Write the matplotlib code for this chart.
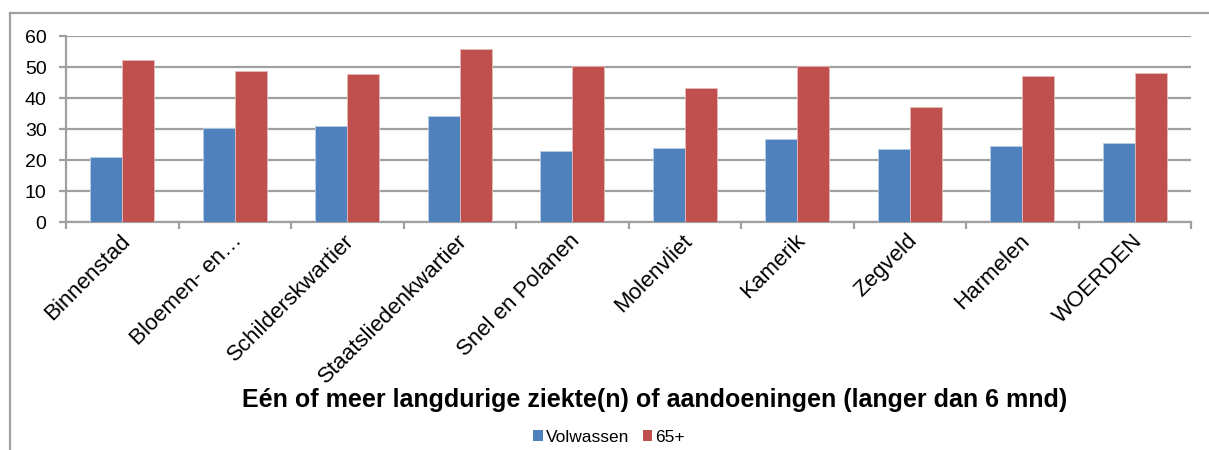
import matplotlib
matplotlib.use("Agg")
import matplotlib.pyplot as plt
from matplotlib.lines import Line2D
from matplotlib.patches import Patch
from matplotlib.transforms import ScaledTranslation
import numpy as np

categories = ["Binnenstad", "Bloemen- en…", "Schilderskwartier", "Staatsliedenkwartier",
              "Snel en Polanen", "Molenvliet", "Kamerik", "Zegveld", "Harmelen", "WOERDEN"]
volwassen = [20.9, 30.3, 31.0, 34.1, 22.9, 23.8, 26.9, 23.6, 24.4, 25.4]
plus65 = [52.2, 48.7, 47.7, 55.7, 50.3, 43.1, 50.3, 37.0, 47.1, 48.2]
series_names = ["Volwassen", "65+"]
yticks = [0, 10, 20, 30, 40, 50, 60]
title = "Eén of meer langdurige ziekte(n) of aandoeningen (langer dan 6 mnd)"

plt.rcParams['font.family'] = ['Liberation Sans', 'DejaVu Sans']

W, H = 1209, 450
fig = plt.figure(figsize=(W / 100, H / 100), dpi=100)
ax = fig.add_axes([66 / W, 1 - 222 / H, (1191 - 66) / W, (222 - 36) / H])

x = np.arange(len(categories))
bw = 0.284
ax.bar(x - bw / 2, volwassen, bw, color="#4F81BD", edgecolor="#B9CDE5", linewidth=0.6, zorder=3)
ax.bar(x + bw / 2, plus65, bw, color="#C0504D", edgecolor="#E6B9B8", linewidth=0.6, zorder=3)

ax.set_xlim(-0.5, len(categories) - 0.5)
ax.set_ylim(0, 60)
ax.set_yticks(yticks)
ax.set_yticklabels([str(v) for v in yticks], fontsize=14)
ax.yaxis.grid(True, color="#A0A0A0", linewidth=1.6, zorder=0)
ax.set_axisbelow(True)

for s in ["top", "right"]:
    ax.spines[s].set_visible(False)
ax.spines["left"].set_color("#A0A0A0")
ax.spines["left"].set_linewidth(1.6)
ax.spines["bottom"].set_color("#A0A0A0")
ax.spines["bottom"].set_linewidth(1.6)

ax.tick_params(axis="y", length=5, width=1.6, color="#A0A0A0", pad=9)
# category-boundary ticks on x axis
ax.set_xticks(np.arange(len(categories) + 1) - 0.5, minor=False)
ax.set_xticklabels([])
ax.tick_params(axis="x", which="major", length=5, width=1.6, color="#A0A0A0")
ax.set_xticks(x, minor=True)
ax.set_xticklabels(categories, minor=True, rotation=45, ha="right", va="top",
                   rotation_mode="anchor", fontsize=16)
ax.tick_params(axis="x", which="minor", length=0, pad=6)
for lbl in ax.get_xticklabels(minor=True):
    lbl.set_transform(lbl.get_transform() + ScaledTranslation(-3 / 100, 0, fig.dpi_scale_trans))

fig.text(655 / W, 1 - 407 / H, title, ha="center", va="baseline",
         fontsize=18, fontweight="bold")

handles = [Patch(facecolor="#4F81BD"), Patch(facecolor="#C0504D")]
fig.legend(handles, series_names, loc="center", bbox_to_anchor=(609 / W, 1 - 437 / H),
           ncol=2, frameon=False, fontsize=12.5, handlelength=0.55, handleheight=0.55,
           handletextpad=0.15, columnspacing=0.8, borderaxespad=0)

# outer chart frame (top and left visible)
fig.add_artist(Line2D([10 / W, 10 / W], [0, 1 - 13 / H], transform=fig.transFigure,
                      color="#A0A0A0", linewidth=1.6))
fig.add_artist(Line2D([10 / W, 1], [1 - 13 / H, 1 - 13 / H], transform=fig.transFigure,
                      color="#A0A0A0", linewidth=1.6))

fig.savefig("out.png", dpi=100)
